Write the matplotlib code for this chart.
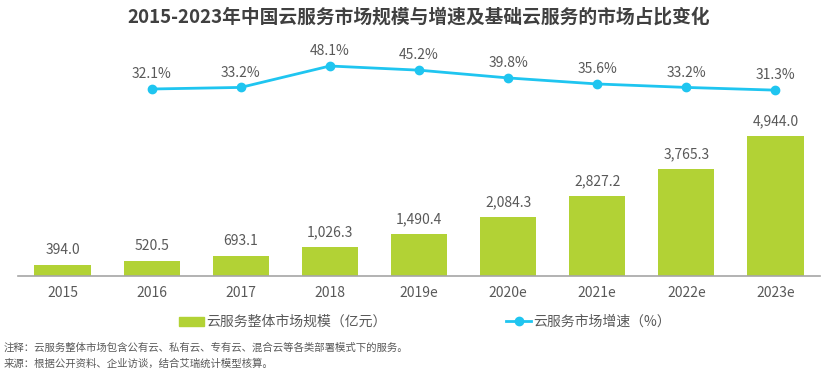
import numpy as np
import matplotlib.pyplot as plt
from matplotlib.patches import Patch
from matplotlib.lines import Line2D

plt.rcParams['font.family'] = ['Noto Sans CJK SC', 'DejaVu Sans']

# 数据
years = ['2015', '2016', '2017', '2018', '2019e', '2020e', '2021e', '2022e', '2023e']
scale = [394.0, 520.5, 693.1, 1026.3, 1490.4, 2084.3, 2827.2, 3765.3, 4944.0]
growth_years = years[1:]
growth = [32.1, 33.2, 48.1, 45.2, 39.8, 35.6, 33.2, 31.3]

bar_c = '#B2D235'
line_c = '#1FC5F0'
txt_c = '#595959'

W, H = 830, 373
fig = plt.figure(figsize=(W / 100, H / 100), dpi=100)
# 坐标区: x 18..820, y 40..276 (px)
ax = fig.add_axes([18 / W, 1 - 276 / H, 802 / W, 236 / H])
x = np.arange(len(years))
ax.bar(x, scale, width=0.63, color=bar_c, zorder=2)
for xi, v in zip(x, scale):
    ax.text(xi, v + 280, f'{v:,.1f}', ha='center', va='bottom', fontsize=10, color=txt_c)
ax.set_xlim(-0.5, len(years) - 0.5)
ax.set_ylim(0, 4944 * 236 / 140)
ax.set_xticks(x)
ax.set_xticklabels(years, fontsize=10, color=txt_c)
ax.tick_params(axis='x', length=0, pad=7)
ax.set_yticks([])
for s in ['top', 'right', 'left']:
    ax.spines[s].set_visible(False)
ax.spines['bottom'].set_color('#A6A6A6')
ax.spines['bottom'].set_linewidth(1.2)

ax2 = ax.twinx()
gx = x[1:]
ax2.plot(gx, growth, color=line_c, lw=2, marker='o', ms=6, zorder=3)
for xi, v in zip(gx, growth):
    ax2.text(xi, v + 5.5, f'{v:.1f}%', ha='center', va='bottom', fontsize=10, color=txt_c)
ppx = 23 / 16.0
ax2.set_ylim(48.1 - (276 - 66) / ppx, 48.1 + (66 - 40) / ppx)
ax2.set_yticks([])
for s in ax2.spines.values():
    s.set_visible(False)

fig.text(0.505, 0.955, '2015-2023年中国云服务市场规模与增速及基础云服务的市场占比变化',
         ha='center', va='center', fontsize=13.5, fontweight='bold', color='#404040')

handles = [Patch(color=bar_c), Line2D([], [], color=line_c, lw=2, marker='o', ms=6)]
labels = ['云服务整体市场规模（亿元）', '云服务市场增速（%）']
fig.legend(handles, labels, loc='center', bbox_to_anchor=(0.512, 1 - 322 / H), ncol=2,
           frameon=False, fontsize=10, labelcolor=txt_c, columnspacing=8.6,
           handlelength=1.8, handletextpad=0.15, handleheight=0.6)

fig.text(0.004, 1 - 348 / H, '注释：云服务整体市场包含公有云、私有云、专有云、混合云等各类部署模式下的服务。',
         fontsize=7.5, color=txt_c, va='center')
fig.text(0.004, 1 - 364 / H, '来源：根据公开资料、企业访谈，结合艾瑞统计模型核算。',
         fontsize=7.5, color=txt_c, va='center')

fig.savefig('out.png', dpi=100)
